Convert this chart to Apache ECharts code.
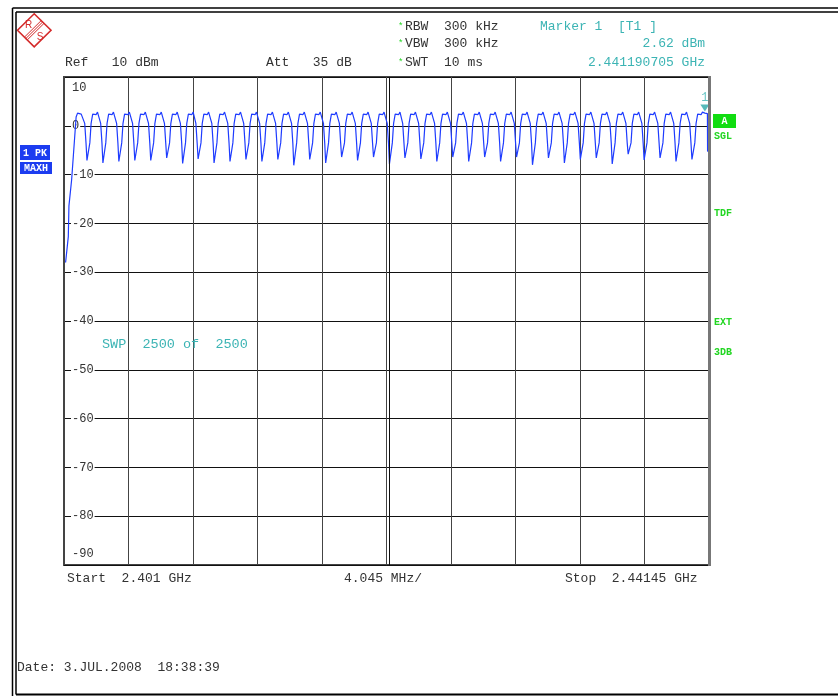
<!DOCTYPE html>
<html>
<head>
<meta charset="utf-8">
<script src="https://cdn.jsdelivr.net/npm/echarts@6.0.0/dist/echarts.min.js"></script>
<style>
  html, body { margin: 0; padding: 0; background: #fff; }
  #chart { width: 838px; height: 696px; }
</style>
</head>
<body>
<div id="chart"></div>
<script>
// sweep settings (x is MHz from start frequency)
const spanMHz = 40.45;
const divMHz = 4.045;
const refDb = 10;
const bottomDb = -90;
const dbStep = 10;

const headerLeft = ['Ref   10 dBm', 'Att   35 dB'];
const headerSettings = ['RBW  300 kHz', 'VBW  300 kHz', 'SWT  10 ms'];
const markerText = ['Marker 1  [T1 ]', '2.62 dBm', '2.441190705 GHz'];
const bottomLabels = ['Start  2.401 GHz', '4.045 MHz/', 'Stop  2.44145 GHz'];
const sideLabels = ['SGL', 'TDF', 'EXT', '3DB'];
const traceLabels = ['1 PK', 'MAXH'];
const sweepText = 'SWP  2500 of  2500';
const dateText = 'Date: 3.JUL.2008  18:38:39';

const markerMHz = 40.190705;
const markerDb = 2.62;

// trace 1 PK / MAXH : [MHz from start, dBm]
const trace = [
  [0.10,-28.0],[0.27,-22.7],[0.31,-22.6],[0.31,-16.4],[0.48,-11.0],[0.76,1.8],[0.85,2.6],[0.95,2.8],[1.08,2.4],
  [1.20,2.5],[1.30,0.5],[1.38,-3.5],[1.44,-7.1],[1.56,-7.1],[1.62,-3.5],[1.70,0.5],[1.80,2.4],[1.90,2.8],[2.02,2.3],[2.10,2.8],
  [2.20,2.5],[2.30,0.5],[2.38,-3.5],[2.44,-7.6],[2.56,-7.6],[2.62,-3.5],[2.70,0.5],[2.80,2.4],[2.90,2.8],[3.02,2.3],[3.10,2.8],
  [3.20,2.5],[3.30,0.5],[3.38,-3.5],[3.44,-7.3],[3.56,-7.3],[3.62,-3.5],[3.70,0.5],[3.80,2.4],[3.90,2.8],[4.02,2.3],[4.10,2.8],
  [4.20,2.5],[4.30,0.5],[4.38,-3.5],[4.44,-7.1],[4.56,-7.1],[4.62,-3.5],[4.70,0.5],[4.80,2.4],[4.90,2.8],[5.02,2.3],[5.10,2.8],
  [5.20,2.5],[5.30,0.5],[5.38,-3.5],[5.44,-7.1],[5.56,-7.1],[5.62,-3.5],[5.70,0.5],[5.80,2.4],[5.90,2.8],[6.02,2.3],[6.10,2.8],
  [6.20,2.5],[6.30,0.5],[6.38,-3.5],[6.44,-6.6],[6.56,-6.6],[6.62,-3.5],[6.70,0.5],[6.80,2.4],[6.90,2.8],[7.02,2.3],[7.10,2.8],
  [7.20,2.5],[7.30,0.5],[7.38,-3.5],[7.44,-7.7],[7.56,-7.7],[7.62,-3.5],[7.70,0.5],[7.80,2.4],[7.90,2.8],[8.02,2.3],[8.10,2.8],
  [8.17,2.5],[8.27,0.5],[8.35,-3.5],[8.41,-6.8],[8.53,-6.8],[8.59,-3.5],[8.67,0.5],[8.77,2.4],[8.87,2.8],[8.99,2.3],[9.07,2.8],
  [9.17,2.5],[9.27,0.5],[9.35,-3.5],[9.41,-7.6],[9.53,-7.6],[9.59,-3.5],[9.67,0.5],[9.77,2.4],[9.87,2.8],[9.99,2.3],[10.07,2.8],
  [10.17,2.5],[10.27,0.5],[10.35,-3.5],[10.41,-7.3],[10.53,-7.3],[10.59,-3.5],[10.67,0.5],[10.77,2.4],[10.87,2.8],[10.99,2.3],[11.07,2.8],
  [11.17,2.5],[11.27,0.5],[11.35,-3.5],[11.41,-6.9],[11.53,-6.9],[11.59,-3.5],[11.67,0.5],[11.77,2.4],[11.87,2.8],[11.99,2.3],[12.07,2.8],
  [12.17,2.5],[12.27,0.5],[12.35,-3.5],[12.41,-7.3],[12.53,-7.3],[12.59,-3.5],[12.67,0.5],[12.77,2.4],[12.87,2.8],[12.99,2.3],[13.07,2.8],
  [13.17,2.5],[13.27,0.5],[13.35,-3.5],[13.41,-6.9],[13.53,-6.9],[13.59,-3.5],[13.67,0.5],[13.77,2.4],[13.87,2.8],[13.99,2.3],[14.07,2.8],
  [14.17,2.5],[14.27,0.5],[14.35,-3.5],[14.41,-8.1],[14.53,-8.1],[14.59,-3.5],[14.67,0.5],[14.77,2.4],[14.87,2.8],[14.99,2.3],[15.07,2.8],
  [15.17,2.5],[15.27,0.5],[15.35,-3.5],[15.41,-6.9],[15.53,-6.9],[15.59,-3.5],[15.67,0.5],[15.77,2.4],[15.87,2.8],[15.99,2.3],[16.07,2.8],
  [16.17,2.5],[16.27,0.5],[16.35,-3.5],[16.41,-7.6],[16.53,-7.6],[16.59,-3.5],[16.67,0.5],[16.77,2.4],[16.87,2.8],[16.99,2.3],[17.07,2.8],
  [17.17,2.5],[17.27,0.5],[17.35,-3.5],[17.41,-6.4],[17.53,-6.4],[17.59,-3.5],[17.67,0.5],[17.77,2.4],[17.87,2.8],[17.99,2.3],[18.07,2.8],
  [18.17,2.5],[18.27,0.5],[18.35,-3.5],[18.41,-7.1],[18.53,-7.1],[18.59,-3.5],[18.67,0.5],[18.77,2.4],[18.87,2.8],[18.99,2.3],[19.07,2.8],
  [19.17,2.5],[19.27,0.5],[19.35,-3.5],[19.41,-6.4],[19.53,-6.4],[19.59,-3.5],[19.67,0.5],[19.77,2.4],[19.87,2.8],[19.99,2.3],[20.07,2.8],
  [20.17,2.5],[20.27,0.5],[20.35,-3.5],[20.41,-7.8],[20.53,-7.8],[20.59,-3.5],[20.67,0.5],[20.77,2.4],[20.87,2.8],[20.99,2.3],[21.07,2.8],
  [21.14,2.5],[21.24,0.5],[21.32,-3.5],[21.38,-6.6],[21.50,-6.6],[21.56,-3.5],[21.64,0.5],[21.74,2.4],[21.84,2.8],[21.96,2.3],[22.04,2.8],
  [22.14,2.5],[22.24,0.5],[22.32,-3.5],[22.38,-6.8],[22.50,-6.8],[22.56,-3.5],[22.64,0.5],[22.74,2.4],[22.84,2.8],[22.96,2.3],[23.04,2.8],
  [23.14,2.5],[23.24,0.5],[23.32,-3.5],[23.38,-7.3],[23.50,-7.3],[23.56,-3.5],[23.64,0.5],[23.74,2.4],[23.84,2.8],[23.96,2.3],[24.04,2.8],
  [24.14,2.5],[24.24,0.5],[24.32,-3.5],[24.38,-6.4],[24.50,-6.4],[24.56,-3.5],[24.64,0.5],[24.74,2.4],[24.84,2.8],[24.96,2.3],[25.04,2.8],
  [25.14,2.5],[25.24,0.5],[25.32,-3.5],[25.38,-7.3],[25.50,-7.3],[25.56,-3.5],[25.64,0.5],[25.74,2.4],[25.84,2.8],[25.96,2.3],[26.04,2.8],
  [26.14,2.5],[26.24,0.5],[26.32,-3.5],[26.38,-6.4],[26.50,-6.4],[26.56,-3.5],[26.64,0.5],[26.74,2.4],[26.84,2.8],[26.96,2.3],[27.04,2.8],
  [27.14,2.5],[27.24,0.5],[27.32,-3.5],[27.38,-7.3],[27.50,-7.3],[27.56,-3.5],[27.64,0.5],[27.74,2.4],[27.84,2.8],[27.96,2.3],[28.04,2.8],
  [28.14,2.5],[28.24,0.5],[28.32,-3.5],[28.38,-6.4],[28.50,-6.4],[28.56,-3.5],[28.64,0.5],[28.74,2.4],[28.84,2.8],[28.96,2.3],[29.04,2.8],
  [29.14,2.5],[29.24,0.5],[29.32,-3.5],[29.38,-8.0],[29.50,-8.0],[29.56,-3.5],[29.64,0.5],[29.74,2.4],[29.84,2.8],[29.96,2.3],[30.04,2.8],
  [30.14,2.5],[30.24,0.5],[30.32,-3.5],[30.38,-6.6],[30.50,-6.6],[30.56,-3.5],[30.64,0.5],[30.74,2.4],[30.84,2.8],[30.96,2.3],[31.04,2.8],
  [31.14,2.5],[31.24,0.5],[31.32,-3.5],[31.38,-7.6],[31.50,-7.6],[31.56,-3.5],[31.64,0.5],[31.74,2.4],[31.84,2.8],[31.96,2.3],[32.04,2.8],
  [32.14,2.5],[32.24,0.5],[32.32,-3.5],[32.38,-6.9],[32.50,-6.9],[32.56,-3.5],[32.64,0.5],[32.74,2.4],[32.84,2.8],[32.96,2.3],[33.04,2.8],
  [33.14,2.5],[33.24,0.5],[33.32,-3.5],[33.38,-6.6],[33.50,-6.6],[33.56,-3.5],[33.64,0.5],[33.74,2.4],[33.84,2.8],[33.96,2.3],[34.04,2.8],
  [34.14,2.5],[34.24,0.5],[34.32,-3.5],[34.38,-7.8],[34.50,-7.8],[34.56,-3.5],[34.64,0.5],[34.74,2.4],[34.84,2.8],[34.96,2.3],[35.04,2.8],
  [35.14,2.5],[35.24,0.5],[35.32,-3.5],[35.38,-5.8],[35.50,-5.8],[35.56,-3.5],[35.64,0.5],[35.74,2.4],[35.84,2.8],[35.96,2.3],[36.04,2.8],
  [36.14,2.5],[36.24,0.5],[36.32,-3.5],[36.38,-7.0],[36.50,-7.0],[36.56,-3.5],[36.64,0.5],[36.74,2.4],[36.84,2.8],[36.96,2.3],[37.04,2.8],
  [37.14,2.5],[37.24,0.5],[37.32,-3.5],[37.38,-6.6],[37.50,-6.6],[37.56,-3.5],[37.64,0.5],[37.74,2.4],[37.84,2.8],[37.96,2.3],[38.04,2.8],
  [38.14,2.5],[38.24,0.5],[38.32,-3.5],[38.38,-7.3],[38.50,-7.3],[38.56,-3.5],[38.64,0.5],[38.74,2.4],[38.84,2.8],[38.96,2.3],[39.04,2.8],
  [39.14,2.5],[39.24,0.5],[39.32,-3.5],[39.38,-6.9],[39.50,-6.9],[39.56,-3.5],[39.64,0.5],[39.74,2.4],[39.84,2.8],[39.96,2.3],[40.04,2.8],
  [40.19,2.6],[40.30,2.7],[40.35,2.5],[40.36,-5.2],[40.45,-5.2]
];

const chart = echarts.init(document.getElementById('chart'));

const MONO = '"Liberation Mono", "DejaVu Sans Mono", monospace';
const GREY = '#333';
const CYAN = '#3cb4b4';
const GREEN = '#22d622';
const BLUE = '#1c3cf0';

function txt(x, y, s, fill, opts) {
  opts = opts || {};
  return {
    type: 'text', silent: true, z: 10,
    style: {
      x: x, y: y, text: s, fill: fill,
      font: (opts.weight || 'normal') + ' ' + (opts.size || 13) + 'px ' + MONO,
      textAlign: opts.align || 'left', textVerticalAlign: 'middle'
    }
  };
}
function box(x, y, w, h, fill, s) {
  return [
    { type: 'rect', silent: true, z: 9, shape: { x: x, y: y, width: w, height: h }, style: { fill: fill } },
    txt(x + w / 2, y + h / 2 + 0.5, s, '#fff', { size: 10, weight: 'bold', align: 'center' })
  ];
}
function seg(x1, y1, x2, y2, w, color) {
  return { type: 'line', silent: true, z: 8, shape: { x1: x1, y1: y1, x2: x2, y2: y2 }, style: { stroke: color || '#000', lineWidth: w || 1.5 } };
}

const RED = '#d42a2a';
const graphic = [
  // outer double frame
  seg(12.5, 8, 838, 8), seg(12.5, 8, 12.5, 696),
  seg(16, 12, 838, 12), seg(16, 12, 16, 694.5), seg(16, 694.5, 838, 694.5, 2),
  // R&S logo
  { type: 'polygon', silent: true, shape: { points: [[34.2, 13.8], [51, 30.3], [34.2, 46.8], [17.5, 30.3]] }, style: { fill: 'none', stroke: RED, lineWidth: 1.6 } },
  seg(24.4, 37.2, 41.2, 20.6, 1, RED), seg(25.8, 38.6, 42.6, 22, 1, RED), seg(27.2, 40, 44, 23.4, 1, RED),
  { type: 'text', silent: true, style: { x: 28.5, y: 25, text: 'R', fill: RED, font: '10px "Liberation Sans", sans-serif', textAlign: 'center', textVerticalAlign: 'middle' } },
  { type: 'text', silent: true, style: { x: 40, y: 37, text: 'S', fill: RED, font: '10px "Liberation Sans", sans-serif', textAlign: 'center', textVerticalAlign: 'middle' } },
  // header
  txt(65, 63, headerLeft[0], GREY), txt(266, 63, headerLeft[1], GREY),
  txt(398, 27, '*', GREEN, { size: 9 }), txt(405, 27, headerSettings[0], GREY),
  txt(398, 44, '*', GREEN, { size: 9 }), txt(405, 44, headerSettings[1], GREY),
  txt(398, 63, '*', GREEN, { size: 9 }), txt(405, 63, headerSettings[2], GREY),
  txt(540, 27, markerText[0], CYAN), txt(705, 44, markerText[1], CYAN, { align: 'right' }),
  txt(705, 63, markerText[2], CYAN, { align: 'right' }),
  // right border of the screen area
  seg(709.5, 76, 709.5, 566, 3, '#777'),
  // side annotations
  ...box(713, 114, 23, 14, '#11dd11', 'A'),
  txt(714, 136, sideLabels[0], GREEN, { size: 10, weight: 'bold' }),
  txt(714, 213, sideLabels[1], GREEN, { size: 10, weight: 'bold' }),
  txt(714, 322, sideLabels[2], GREEN, { size: 10, weight: 'bold' }),
  txt(714, 352, sideLabels[3], GREEN, { size: 10, weight: 'bold' }),
  ...box(20, 145, 30, 15, BLUE, traceLabels[0]),
  ...box(20, 162, 32, 12, BLUE, traceLabels[1]),
  txt(102, 344, sweepText, CYAN, { size: 13.5 }),
  // bottom
  txt(67, 579, bottomLabels[0], GREY), txt(344, 579, bottomLabels[1], GREY),
  txt(565, 579, bottomLabels[2], GREY),
  txt(17, 668, dateText, GREY)
];

const labStyle = { fontFamily: MONO, fontSize: 12, color: GREY };

chart.setOption({
  animation: false,
  backgroundColor: '#fff',
  grid: { left: 64, top: 77, right: 129, bottom: 131, show: true, borderColor: '#444', borderWidth: 2, backgroundColor: 'transparent' },
  xAxis: {
    type: 'value', min: 0, max: spanMHz, interval: divMHz,
    axisLine: { show: false }, axisTick: { show: false }, axisLabel: { show: false },
    splitLine: { show: true, lineStyle: { color: '#444', width: 1 } }
  },
  yAxis: {
    type: 'value', min: bottomDb, max: refDb, interval: dbStep,
    axisLine: { show: false }, axisTick: { show: false },
    splitLine: { show: true, lineStyle: { color: '#111', width: 1 } },
    axisLabel: {
      inside: true, margin: 7, ...labStyle,
      formatter: v => v === refDb ? '{top|' + v + '}' : v === bottomDb ? '{bot|' + v + '}' : '{mid|' + v + '}',
      rich: {
        top: { ...labStyle, padding: [22, 0, 0, 1] },
        bot: { ...labStyle, padding: [0, 0, 22, 1] },
        mid: { ...labStyle, backgroundColor: '#fff', padding: [0, 1] }
      }
    }
  },
  series: [
    {
      type: 'line', data: trace, symbol: 'none', z: 3,
      lineStyle: { color: '#1e3cff', width: 1.2 },
      markLine: {
        silent: true, symbol: 'none', label: { show: false },
        lineStyle: { color: '#111', width: 1, type: 'solid' },
        data: [{ xAxis: spanMHz / 2 + 0.14 }]
      }
    },
    {
      type: 'scatter', data: [[markerMHz, markerDb]], z: 5,
      symbol: 'triangle', symbolRotate: 180, symbolSize: [9, 7], symbolOffset: [0, -5],
      itemStyle: { color: '#2aa8a8' },
      label: { show: true, position: 'top', distance: 1, formatter: '1', color: CYAN, fontFamily: MONO, fontSize: 12 }
    }
  ],
  graphic: graphic
});
</script>
</body>
</html>
